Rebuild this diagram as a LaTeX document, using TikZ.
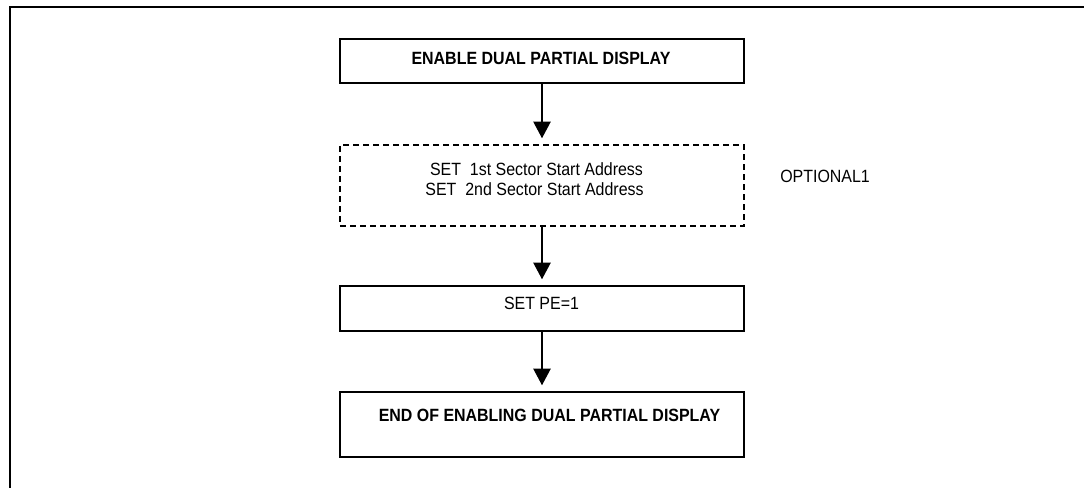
\documentclass[tikz,border=0pt]{standalone}
\usepackage{fontspec}
\setmainfont{Liberation Sans}[FakeStretch=0.9]
\usetikzlibrary{arrows.meta}
\tikzset{
  boxshape/.style={draw=black, line width=1.1pt, rectangle, minimum width=303pt, inner sep=0pt},
  dashbox/.style={boxshape, dash pattern=on 4.5pt off 3pt},
  txt/.style={font=\fontsize{13.3}{16}\selectfont, inner sep=0pt, align=center},
  btxt/.style={txt, font=\fontsize{13.3}{16}\selectfont\bfseries},
  arr/.style={line width=1.1pt, -{Triangle[length=12.5pt,width=13pt]}, shorten >=4.5pt},
  frameline/.style={line width=1.6pt}
}
\begin{document}
\begin{tikzpicture}[x=0.75pt,y=-0.75pt]
\useasboundingbox (0,0) rectangle (1084,488);
% frame
\coordinate (fbl) at (10,490);
\coordinate (ftl) at (10,7);
\coordinate (ftr) at (1086,7);
\draw[frameline] (fbl) -- (ftl) -- (ftr);
% boxes
\node[boxshape, minimum height=33pt] (b1) at (542,61) {};
\node[dashbox, minimum height=60.75pt] (b2) at (542,185.5) {};
\node[boxshape, minimum height=33.75pt] (b3) at (542,308.5) {};
\node[boxshape, minimum height=48.75pt] (b4) at (542,424.5) {};
% texts
\node[btxt] (t1) at (541,58.5) {ENABLE DUAL PARTIAL DISPLAY};
\node[txt] (t2a) at (536.5,169) {SET\ \ 1st Sector Start Address};
\node[txt] (t2b) at (534.5,189.5) {SET\ \ 2nd Sector Start Address};
\node[txt] (t3) at (541.5,303.5) {SET PE=1};
\node[btxt] (t4) at (549.5,415) {END OF ENABLING DUAL PARTIAL DISPLAY};
\node[txt, anchor=west] (opt) at (780,176) {OPTIONAL1};
% connectors
\draw[arr] (b1.south) -- (b2.north);
\draw[arr] (b2.south) -- (b3.north);
\draw[arr] (b3.south) -- (b4.north);
\end{tikzpicture}
\end{document}
